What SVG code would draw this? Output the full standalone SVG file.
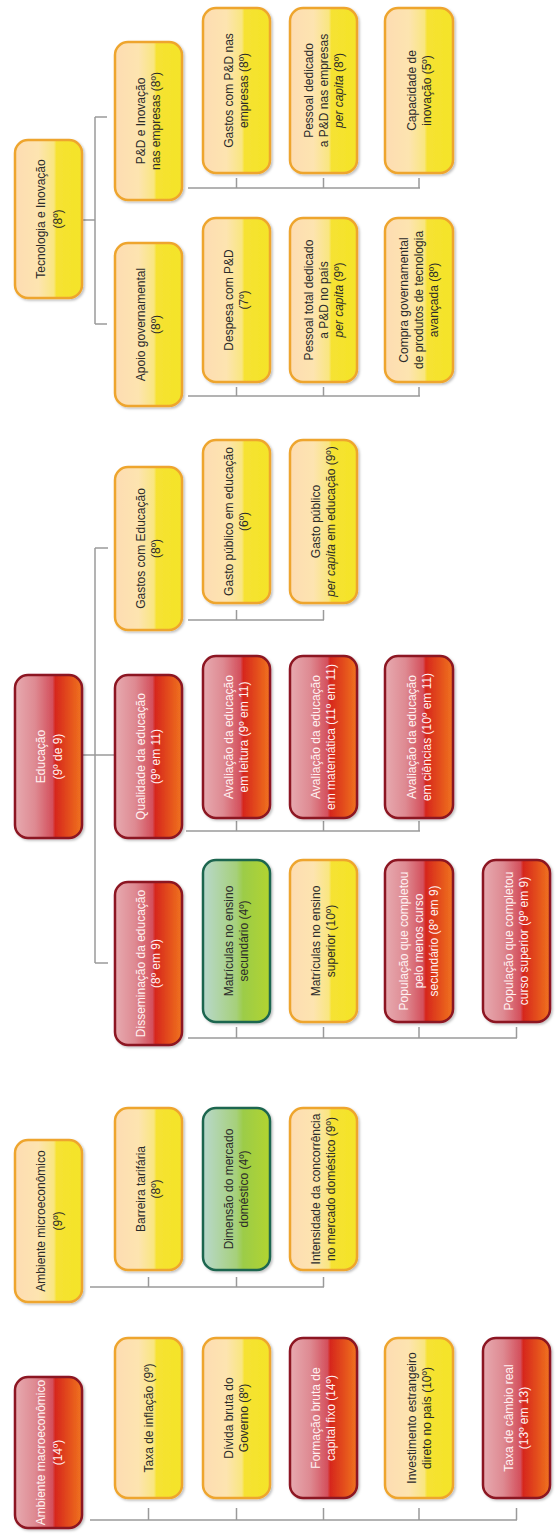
<svg xmlns="http://www.w3.org/2000/svg" width="557" height="1540" viewBox="0 0 557 1540">
<defs>
<linearGradient id="gy" x1="0" y1="0" x2="1" y2="0">
<stop offset="0" stop-color="#fddcb2"/>
<stop offset="0.35" stop-color="#fde4b0"/>
<stop offset="0.58" stop-color="#f9e680"/>
<stop offset="0.62" stop-color="#f6e232"/>
<stop offset="1" stop-color="#f4e428"/>
</linearGradient>
<linearGradient id="gr" x1="0" y1="0" x2="1" y2="0">
<stop offset="0" stop-color="#e7aab0"/>
<stop offset="0.3" stop-color="#de8a92"/>
<stop offset="0.56" stop-color="#d4505c"/>
<stop offset="0.6" stop-color="#d6261c"/>
<stop offset="1" stop-color="#f07420"/>
</linearGradient>
<linearGradient id="gg" x1="0" y1="0" x2="1" y2="0">
<stop offset="0" stop-color="#b8d8cc"/>
<stop offset="0.5" stop-color="#a6d07a"/>
<stop offset="0.6" stop-color="#9ccc48"/>
<stop offset="1" stop-color="#b2d430"/>
</linearGradient>
<filter id="sh" x="-10%" y="-10%" width="130%" height="130%">
<feDropShadow dx="1.5" dy="1.5" stdDeviation="1.2" flood-color="#000" flood-opacity="0.25"/>
</filter>
</defs>
<style>
rect{stroke-width:2.5;filter:url(#sh)}
.y rect{fill:url(#gy);stroke:#eea52e}
.r rect{fill:url(#gr);stroke:#8c1420}
.g rect{fill:url(#gg);stroke:#1e6650}
text{font-family:"Liberation Sans",Arial,sans-serif;font-size:12px;text-anchor:middle}
.y text,.g text{fill:#2b2b2b}
.r text{fill:#fff2f2}
.it{font-style:italic}
#connectors path{fill:none;stroke:#9a9a9a;stroke-width:1.5}
</style>

<g id="connectors">
<path d="M90 1520H517M148.5 1508V1520M236.5 1508V1520M323.5 1508V1520M419 1508V1520M516.5 1508V1520"/>
<path d="M90 1287H324M148.5 1277V1287M236.5 1277V1287M323.5 1277V1287"/>
<path d="M82 755H115M95 548V963M95 548H108M95 963H108"/>
<path d="M188 1038H517M236.5 1027V1038M323.5 1027V1038M419 1027V1038M516.5 1027V1038"/>
<path d="M186 831H420M236.5 821V831M323.5 821V831M419 821V831"/>
<path d="M188 620H324M236.5 610V620M323.5 610V620"/>
<path d="M82 220H95M95 117V324M95 117H107M95 324H107"/>
<path d="M188 188H420M236.5 178V188M323.5 178V188M419 178V188"/>
<path d="M188 396H420M236.5 387V396M323.5 387V396M419 387V396"/>
</g>

<!-- Ambiente macroeconômico -->
<g id="macro" class="r"><rect x="15" y="1377" width="67" height="151" rx="13"/>
<text transform="translate(48.5,1452.5) rotate(-90)"><tspan x="0" y="-4">Ambiente macroeconômico</tspan><tspan x="0" y="13">(14º)</tspan></text></g>
<g id="inflacao" class="y"><rect x="115" y="1338" width="67" height="160" rx="13"/>
<text transform="translate(148.5,1418) rotate(-90)"><tspan x="0" y="4">Taxa de inflação (9º)</tspan></text></g>
<g id="divida" class="y"><rect x="203" y="1338" width="67" height="160" rx="13"/>
<text transform="translate(236.5,1418) rotate(-90)"><tspan x="0" y="-3.5">Dívida bruta do</tspan><tspan x="0" y="11.5">Governo (8º)</tspan></text></g>
<g id="formacao" class="r"><rect x="290" y="1338" width="67" height="160" rx="13"/>
<text transform="translate(323.5,1418) rotate(-90)"><tspan x="0" y="-3.5">Formação bruta de</tspan><tspan x="0" y="11.5">capital fixo (14º)</tspan></text></g>
<g id="investimento" class="y"><rect x="385" y="1338" width="68" height="160" rx="13"/>
<text transform="translate(419,1418) rotate(-90)"><tspan x="0" y="-3.5">Investimento estrangeiro</tspan><tspan x="0" y="11.5">direto no país (10º)</tspan></text></g>
<g id="cambio" class="r"><rect x="483" y="1338" width="67" height="160" rx="13"/>
<text transform="translate(516.5,1418) rotate(-90)"><tspan x="0" y="-3.5">Taxa de câmbio real</tspan><tspan x="0" y="11.5">(13º em 13)</tspan></text></g>

<!-- Ambiente microeconômico -->
<g id="micro" class="y"><rect x="15" y="1140" width="67" height="162" rx="13"/>
<text transform="translate(48.5,1221) rotate(-90)"><tspan x="0" y="-4">Ambiente microeconômico</tspan><tspan x="0" y="13">(9º)</tspan></text></g>
<g id="barreira" class="y"><rect x="115" y="1108" width="67" height="162" rx="13"/>
<text transform="translate(148.5,1189) rotate(-90)"><tspan x="0" y="-3.5">Barreira tarifária</tspan><tspan x="0" y="11.5">(8º)</tspan></text></g>
<g id="dimensao" class="g"><rect x="203" y="1108" width="67" height="162" rx="13"/>
<text transform="translate(236.5,1189) rotate(-90)"><tspan x="0" y="-3.5">Dimensão do mercado</tspan><tspan x="0" y="11.5">doméstico (4º)</tspan></text></g>
<g id="intensidade" class="y"><rect x="290" y="1108" width="67" height="162" rx="13"/>
<text transform="translate(323.5,1189) rotate(-90)"><tspan x="0" y="-3.5">Intensidade da concorrência</tspan><tspan x="0" y="11.5">no mercado doméstico (9º)</tspan></text></g>

<!-- Educação -->
<g id="educacao" class="r"><rect x="15" y="675" width="67" height="163" rx="13"/>
<text transform="translate(48.5,756.5) rotate(-90)"><tspan x="0" y="-4">Educação</tspan><tspan x="0" y="13">(9º de 9)</tspan></text></g>
<g id="gastos-educacao" class="y"><rect x="115" y="467" width="67" height="163" rx="13"/>
<text transform="translate(148.5,548.5) rotate(-90)"><tspan x="0" y="-3.5">Gastos com Educação</tspan><tspan x="0" y="11.5">(8º)</tspan></text></g>
<g id="qualidade" class="r"><rect x="115" y="675" width="67" height="163" rx="13"/>
<text transform="translate(148.5,756.5) rotate(-90)"><tspan x="0" y="-3.5">Qualidade da educação</tspan><tspan x="0" y="11.5">(9º em 11)</tspan></text></g>
<g id="disseminacao" class="r"><rect x="115" y="882" width="67" height="163" rx="13"/>
<text transform="translate(148.5,963.5) rotate(-90)"><tspan x="0" y="-3.5">Disseminação da educação</tspan><tspan x="0" y="11.5">(8º em 9)</tspan></text></g>
<g id="matriculas-secundario" class="g"><rect x="203" y="860" width="67" height="162" rx="13"/>
<text transform="translate(236.5,941) rotate(-90)"><tspan x="0" y="-3.5">Matrículas no ensino</tspan><tspan x="0" y="11.5">secundário (4º)</tspan></text></g>
<g id="matriculas-superior" class="y"><rect x="290" y="860" width="67" height="162" rx="13"/>
<text transform="translate(323.5,941) rotate(-90)"><tspan x="0" y="-3.5">Matrículas no ensino</tspan><tspan x="0" y="11.5">superior (10º)</tspan></text></g>
<g id="populacao-secundario" class="r"><rect x="385" y="860" width="68" height="162" rx="13"/>
<text transform="translate(419,941) rotate(-90)"><tspan x="0" y="-11">População que completou</tspan><tspan x="0" y="4">pelo menos curso</tspan><tspan x="0" y="19">secundário (8º em 9)</tspan></text></g>
<g id="populacao-superior" class="r"><rect x="483" y="860" width="67" height="162" rx="13"/>
<text transform="translate(516.5,941) rotate(-90)"><tspan x="0" y="-3.5">População que completou</tspan><tspan x="0" y="11.5">curso superior (9º em 9)</tspan></text></g>
<g id="avaliacao-leitura" class="r"><rect x="203" y="656" width="67" height="162" rx="13"/>
<text transform="translate(236.5,737) rotate(-90)"><tspan x="0" y="-3.5">Avaliação da educação</tspan><tspan x="0" y="11.5">em leitura (9º em 11)</tspan></text></g>
<g id="avaliacao-matematica" class="r"><rect x="290" y="656" width="67" height="162" rx="13"/>
<text transform="translate(323.5,737) rotate(-90)"><tspan x="0" y="-3.5">Avaliação da educação</tspan><tspan x="0" y="11.5">em matemática (11º em 11)</tspan></text></g>
<g id="avaliacao-ciencias" class="r"><rect x="385" y="656" width="68" height="162" rx="13"/>
<text transform="translate(419,737) rotate(-90)"><tspan x="0" y="-3.5">Avaliação da educação</tspan><tspan x="0" y="11.5">em ciências (10º em 11)</tspan></text></g>
<g id="gasto-publico" class="y"><rect x="203" y="440" width="67" height="163" rx="13"/>
<text transform="translate(236.5,521.5) rotate(-90)"><tspan x="0" y="-3.5">Gasto público em educação</tspan><tspan x="0" y="11.5">(6º)</tspan></text></g>
<g id="gasto-per-capita" class="y"><rect x="290" y="440" width="67" height="163" rx="13"/>
<text transform="translate(323.5,521.5) rotate(-90)"><tspan x="0" y="-3.5">Gasto público</tspan><tspan x="0" y="11.5"><tspan class="it">per capita</tspan> em educação (9º)</tspan></text></g>

<!-- Tecnologia e Inovação -->
<g id="tecnologia" class="y"><rect x="15" y="140" width="67" height="158" rx="13"/>
<text transform="translate(48.5,219) rotate(-90)"><tspan x="0" y="-4">Tecnologia e Inovação</tspan><tspan x="0" y="13">(8º)</tspan></text></g>
<g id="ped-empresas" class="y"><rect x="115" y="42" width="67" height="158" rx="13"/>
<text transform="translate(148.5,121) rotate(-90)"><tspan x="0" y="-3.5">P&amp;D e Inovação</tspan><tspan x="0" y="11.5">nas empresas (8º)</tspan></text></g>
<g id="apoio" class="y"><rect x="115" y="243" width="67" height="163" rx="13"/>
<text transform="translate(148.5,324.5) rotate(-90)"><tspan x="0" y="-3.5">Apoio governamental</tspan><tspan x="0" y="11.5">(8º)</tspan></text></g>
<g id="gastos-ped" class="y"><rect x="203" y="8" width="67" height="165" rx="13"/>
<text transform="translate(236.5,90.5) rotate(-90)"><tspan x="0" y="-3.5">Gastos com P&amp;D nas</tspan><tspan x="0" y="11.5">empresas (8º)</tspan></text></g>
<g id="pessoal-dedicado" class="y"><rect x="290" y="8" width="67" height="165" rx="13"/>
<text transform="translate(323.5,90.5) rotate(-90)"><tspan x="0" y="-11">Pessoal dedicado</tspan><tspan x="0" y="4">a P&amp;D nas empresas</tspan><tspan x="0" y="19"><tspan class="it">per capita</tspan> (8º)</tspan></text></g>
<g id="capacidade" class="y"><rect x="385" y="8" width="68" height="165" rx="13"/>
<text transform="translate(419,90.5) rotate(-90)"><tspan x="0" y="-3.5">Capacidade de</tspan><tspan x="0" y="11.5">inovação (5º)</tspan></text></g>
<g id="despesa" class="y"><rect x="203" y="218" width="67" height="164" rx="13"/>
<text transform="translate(236.5,300) rotate(-90)"><tspan x="0" y="-3.5">Despesa com P&amp;D</tspan><tspan x="0" y="11.5">(7º)</tspan></text></g>
<g id="pessoal-total" class="y"><rect x="290" y="218" width="67" height="164" rx="13"/>
<text transform="translate(323.5,300) rotate(-90)"><tspan x="0" y="-11">Pessoal total dedicado</tspan><tspan x="0" y="4">a P&amp;D no país</tspan><tspan x="0" y="19"><tspan class="it">per capita</tspan> (9º)</tspan></text></g>
<g id="compra" class="y"><rect x="385" y="218" width="68" height="164" rx="13"/>
<text transform="translate(419,300) rotate(-90)"><tspan x="0" y="-11">Compra governamental</tspan><tspan x="0" y="4">de produtos de tecnologia</tspan><tspan x="0" y="19">avançada (8º)</tspan></text></g>
</svg>
